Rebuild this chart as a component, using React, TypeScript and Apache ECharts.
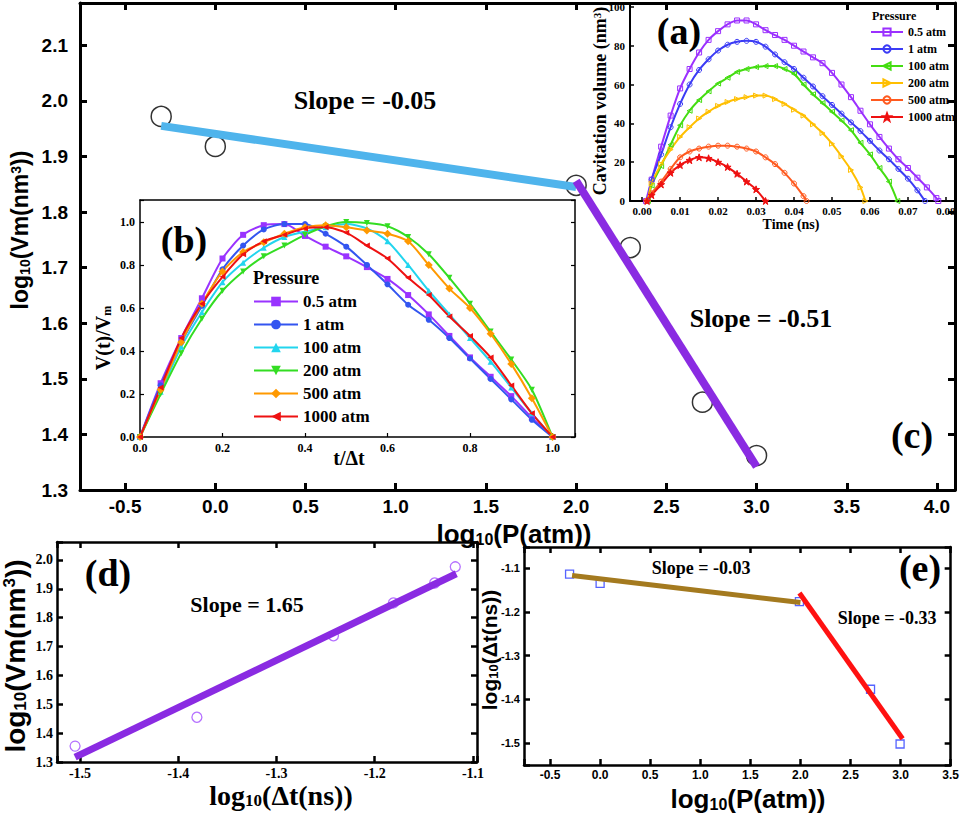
import React, { useEffect, useRef } from "react";
import * as echarts from "echarts";

const SERIF = "'Liberation Serif', 'Times New Roman', serif";
const SANS = "'Liberation Sans', Arial, sans-serif";

// ---------- (c) main panel: log10(Vm) vs log10(P)
const cLogP = [-0.3, 0, 2, 2.3, 2.7, 3];
const cLogVm = [1.972, 1.918, 1.848, 1.736, 1.458, 1.362];
const cFitLowP = [-0.3, 2.0];
const cFitLowVm = [1.955, 1.845];
const cFitHighP = [2.0, 3.0];
const cFitHighVm = [1.856, 1.342];

// ---------- pressures (legend names)
const pressureNames = ["0.5 atm", "1 atm", "100 atm", "200 atm", "500 atm", "1000 atm"];

// ---------- (a) cavitation volume vs time
const aTimeGrid = [0.0025, 0.005, 0.0075, 0.01, 0.0125, 0.015, 0.0175, 0.02, 0.0225, 0.025, 0.0275, 0.03, 0.0325, 0.035, 0.0375, 0.04, 0.0425, 0.045, 0.0475, 0.05, 0.0525, 0.055, 0.0575, 0.06, 0.0625, 0.065, 0.0675, 0.07, 0.0725, 0.075, 0.0775];
const aStartTime = [0.001, 0.0015, 0.0015, 0.0015, 0.0012, 0.0013];
const aEndTime = [0.078, 0.0745, 0.0672, 0.0588, 0.0433, 0.0325];
const aVol05 = [11, 28, 44, 58, 68, 76.5, 83, 87.5, 91, 93, 93, 91, 88, 85.5, 83, 80, 77, 74, 71, 66, 60, 53.5, 46.5, 39.5, 33, 27, 21.5, 17, 12, 7, 1.5];
const aVol1 = [11, 24, 38, 50, 60, 67.5, 73, 77.5, 80.5, 82, 82.5, 82, 79.5, 75.5, 71.5, 68, 63.5, 59, 54, 49.5, 45, 40.5, 36, 31, 26, 21.5, 16.5, 11.5, 5.5];
const aVol100 = [8, 18, 29, 39, 46.5, 52, 56.5, 60.5, 63.5, 66.5, 68, 69, 69.5, 69.5, 68, 65.5, 60, 55, 50.5, 46, 41.5, 36.5, 30, 24, 17, 10];
const aVol200 = [9, 19, 26.5, 33, 38, 42.5, 46, 49, 51, 52.5, 53.5, 54.3, 54.3, 52.5, 50, 47, 44, 39.5, 35, 29.5, 23, 16, 7];
const aVol500 = [4, 10, 16.5, 22.5, 25.5, 27, 28, 28.5, 28.5, 28, 27, 25.5, 22.5, 19, 14.5, 9, 2.5];
const aVol1000 = [3, 8.5, 14.5, 18.5, 21, 22.5, 22, 20, 17.5, 14, 10, 6];
const aColors = ["#9b30ff", "#3b3bf5", "#44dd11", "#ffbf00", "#ff5a1f", "#ee1111"];

// ---------- (b) normalised volume vs normalised time
const bT = [0, 0.05, 0.1, 0.15, 0.2, 0.25, 0.3, 0.35, 0.4, 0.45, 0.5, 0.55, 0.6, 0.65, 0.7, 0.75, 0.8, 0.85, 0.9, 0.95, 1.0];
const bV05 = [0, 0.25, 0.46, 0.645, 0.83, 0.94, 0.985, 0.99, 0.935, 0.885, 0.84, 0.79, 0.735, 0.66, 0.57, 0.47, 0.37, 0.28, 0.19, 0.09, 0];
const bV1 = [0, 0.24, 0.44, 0.61, 0.78, 0.89, 0.965, 0.99, 0.99, 0.945, 0.885, 0.8, 0.71, 0.615, 0.545, 0.46, 0.365, 0.27, 0.175, 0.08, 0];
const bV100 = [0, 0.21, 0.42, 0.58, 0.72, 0.81, 0.88, 0.93, 0.955, 0.975, 0.99, 0.97, 0.91, 0.8, 0.68, 0.57, 0.46, 0.35, 0.23, 0.11, 0];
const bV200 = [0, 0.2, 0.39, 0.55, 0.68, 0.77, 0.84, 0.89, 0.94, 0.98, 1.0, 0.995, 0.98, 0.93, 0.85, 0.74, 0.62, 0.49, 0.36, 0.22, 0];
const bV500 = [0, 0.22, 0.44, 0.62, 0.77, 0.86, 0.905, 0.945, 0.975, 0.985, 0.975, 0.96, 0.945, 0.91, 0.8, 0.69, 0.6, 0.48, 0.34, 0.18, 0];
const bV1000 = [0, 0.23, 0.46, 0.62, 0.745, 0.85, 0.91, 0.94, 0.97, 0.975, 0.95, 0.89, 0.83, 0.74, 0.66, 0.56, 0.47, 0.37, 0.24, 0.11, 0];
const bColors = ["#9933ff", "#3355f0", "#22d5ee", "#33dd22", "#ff9900", "#ee1111"];

// ---------- (d) log10(Vm) vs log10(dt)
const dLogDt = [-1.505, -1.381, -1.242, -1.181, -1.139, -1.118];
const dLogVm = [1.355, 1.455, 1.737, 1.851, 1.92, 1.976];
const dFitDt = [-1.505, -1.117];
const dFitVm = [1.317, 1.952];

// ---------- (e) log10(dt) vs log10(P)
const eLogP = [-0.305, 0, 1.99, 2.7, 2.995];
const eLogDt = [-1.114, -1.135, -1.177, -1.377, -1.502];
const eFitLowP = [-0.28, 2.0];
const eFitLowDt = [-1.117, -1.179];
const eFitHighP = [1.99, 3.02];
const eFitHighDt = [-1.157, -1.49];

const pairs = (x: number[], y: number[]) => x.map((v, i) => [v, y[i]]);

function fmt(step: number, digits: number) {
  return (v: number) => {
    const k = Math.round(v / step);
    if (Math.abs(v / step - k) > 1e-6) return "";
    const n = k * step;
    return (Math.abs(n) < 1e-12 ? 0 : n).toFixed(digits);
  };
}

type St = { lw: number; tl: number; tw: number; ff: string; fs: number; margin: number; z?: number };

function axis(grid: number, pos: string, min: number, max: number, step: number, digits: number, st: St, mirror: boolean, ticks = true) {
  return {
    type: "value",
    gridIndex: grid,
    position: pos,
    min,
    max,
    minInterval: step,
    maxInterval: step,
    splitNumber: Math.max(1, Math.round((max - min) / step)),
    z: st.z ?? 0,
    axisLine: { show: true, onZero: false, lineStyle: { color: "#000", width: st.lw } },
    axisTick: { show: ticks, inside: true, length: st.tl, lineStyle: { color: "#000", width: st.tw } },
    axisLabel: mirror
      ? { show: false }
      : { show: true, formatter: fmt(step, digits), fontFamily: st.ff, fontSize: st.fs, fontWeight: "bold", color: "#000", margin: st.margin },
    splitLine: { show: false },
  };
}

function richLabel(parts: [string, string][], size: number, family: string) {
  const text = parts.map(([k, t]) => `{${k}|${t}}`).join("");
  const base = { fontFamily: family, fontWeight: "bold", fill: "#000", color: "#000" };
  const small = Math.round(size * 0.6);
  const rich = {
    m: { ...base, fontSize: size, lineHeight: size },
    s: { ...base, fontSize: small, lineHeight: Math.round(size * 0.3), verticalAlign: "bottom" },
    p: { ...base, fontSize: small, lineHeight: small, verticalAlign: "top" },
  };
  return { text, rich };
}

function txt(x: number, y: number, text: string, size: number, family: string, rot = 0, rich?: any, align = "center") {
  return {
    type: "text",
    x,
    y,
    rotation: rot,
    z: 100,
    style: {
      text,
      rich,
      fontSize: size,
      fontFamily: family,
      fontWeight: "bold",
      fill: "#000",
      align,
      verticalAlign: "middle",
    },
  };
}

const STAR = "path://M12 1 L15 9 L23 9 L16.5 14 L19 22 L12 17 L5 22 L7.5 14 L1 9 L9 9 Z";

export default function App() {
  const ref = useRef<HTMLDivElement>(null);

  useEffect(() => {
    if (!ref.current) return;
    const chart = echarts.init(ref.current, undefined, { renderer: "svg" });

    const mainSt: St = { lw: 3, tl: 7, tw: 3, ff: SANS, fs: 19, margin: 7 };
    const mainStY: St = { ...mainSt, margin: 12 };
    const aSt: St = { lw: 2, tl: 4, tw: 1.5, ff: SERIF, fs: 11, margin: 4 };
    const aStY: St = { ...aSt, fs: 11, margin: 5 };
    const bSt: St = { lw: 1.5, tl: 4, tw: 1.2, ff: SERIF, fs: 12, margin: 5, z: 6 };
    const dSt: St = { lw: 2.5, tl: 6, tw: 2.5, ff: SERIF, fs: 14, margin: 4 };
    const eSt: St = { lw: 2.5, tl: 6, tw: 2.5, ff: SANS, fs: 12, margin: 4 };
    const eStY: St = { ...eSt, fs: 11, margin: 4 };

    const xAxis = [
      axis(0, "bottom", -0.75, 4.1, 0.5, 1, mainSt, false), // 0
      axis(0, "top", -0.75, 4.1, 0.5, 1, mainSt, true), // 1
      axis(1, "bottom", -0.0032, 0.0824, 0.01, 2, aSt, false), // 2
      axis(2, "bottom", 0, 1.0545, 0.2, 1, bSt, false), // 3
      axis(2, "top", 0, 1.0545, 0.2, 1, bSt, true, false), // 4
      axis(3, "bottom", -1.5234, -1.0959, 0.1, 1, dSt, false), // 5
      axis(3, "top", -1.5234, -1.0959, 0.1, 1, dSt, true), // 6
      axis(4, "bottom", -0.76, 3.5, 0.5, 1, eSt, false), // 7
      axis(4, "top", -0.76, 3.5, 0.5, 1, eSt, true), // 8
    ];
    const yAxis = [
      axis(0, "left", 1.3, 2.176, 0.1, 1, mainStY, false), // 0
      axis(0, "right", 1.3, 2.176, 0.1, 1, mainStY, true), // 1
      axis(1, "left", 0, 102, 20, 0, aStY, false), // 2
      axis(2, "left", 0, 1.102, 0.2, 1, bSt, false), // 3
      axis(2, "right", 0, 1.102, 0.2, 1, bSt, true), // 4
      axis(3, "left", 1.3, 2.062, 0.1, 1, dSt, false), // 5
      axis(3, "right", 1.3, 2.062, 0.1, 1, dSt, true), // 6
      axis(4, "left", -1.55, -1.052, 0.1, 1, eStY, false), // 7
      axis(4, "right", -1.55, -1.052, 0.1, 1, eStY, true), // 8
    ];

    const grid = [
      { left: 80, top: 3, right: 7, bottom: 324 },
      { left: 630, top: 3, right: 7, bottom: 613 },
      { left: 140, top: 200, right: 387, bottom: 377, show: true, backgroundColor: "#fff", borderWidth: 0, z: 5 },
      { left: 57, top: 542, right: 485, bottom: 52 },
      { left: 524, top: 547, right: 7, bottom: 49 },
    ];

    const aVols = [aVol05, aVol1, aVol100, aVol200, aVol500, aVol1000];
    const aSymbols = ["rect", "circle", "triangle", "triangle", "circle", STAR];
    const aRot = [0, 0, 90, -90, 0, 0];
    const aSeries = aVols.map((vals, i) => ({
      type: "line",
      name: "a: " + pressureNames[i],
      xAxisIndex: 2,
      yAxisIndex: 2,
      data: [[aStartTime[i], 0], ...vals.map((v, j) => [aTimeGrid[j], v]), [aEndTime[i], 0]],
      smooth: 0.3,
      symbol: aSymbols[i],
      symbolRotate: aRot[i],
      symbolSize: i === 5 ? 7 : 5,
      lineStyle: { color: aColors[i], width: 2 },
      itemStyle: { color: i === 5 ? aColors[i] : "rgba(255,255,255,0)", borderColor: aColors[i], borderWidth: 1 },
      z: 3,
    }));

    const bVals = [bV05, bV1, bV100, bV200, bV500, bV1000];
    const bSymbols = ["rect", "circle", "triangle", "triangle", "diamond", "triangle"];
    const bRot = [0, 0, 0, 180, 0, 90];
    const bSeries = bVals.map((vals, i) => ({
      type: "line",
      name: "b: " + pressureNames[i],
      xAxisIndex: 3,
      yAxisIndex: 3,
      data: pairs(bT, vals),
      smooth: 0.25,
      symbol: bSymbols[i],
      symbolRotate: bRot[i],
      symbolSize: i === 4 ? 8 : 6,
      lineStyle: { color: bColors[i], width: 2 },
      itemStyle: { color: bColors[i] },
      z: 7,
    }));

    const series: any[] = [
      {
        type: "scatter",
        name: "c points",
        xAxisIndex: 0,
        yAxisIndex: 0,
        data: pairs(cLogP, cLogVm),
        symbol: "circle",
        symbolSize: 20,
        itemStyle: { color: "rgba(255,255,255,0)", borderColor: "#000", borderWidth: 1.5 },
        z: 2,
      },
      {
        type: "line",
        name: "c fit low",
        xAxisIndex: 0,
        yAxisIndex: 0,
        data: pairs(cFitLowP, cFitLowVm),
        symbol: "none",
        lineStyle: { color: "#4fb4ec", width: 8 },
        z: 3,
      },
      {
        type: "line",
        name: "c fit high",
        xAxisIndex: 0,
        yAxisIndex: 0,
        data: pairs(cFitHighP, cFitHighVm),
        symbol: "none",
        lineStyle: { color: "#8a2be2", width: 8 },
        z: 3,
      },
      ...aSeries,
      ...bSeries,
      {
        type: "scatter",
        name: "d points",
        xAxisIndex: 5,
        yAxisIndex: 5,
        data: pairs(dLogDt, dLogVm),
        symbol: "circle",
        symbolSize: 10,
        itemStyle: { color: "rgba(255,255,255,0)", borderColor: "#a24dff", borderWidth: 1.3 },
        z: 2,
      },
      {
        type: "line",
        name: "d fit",
        xAxisIndex: 5,
        yAxisIndex: 5,
        data: pairs(dFitDt, dFitVm),
        symbol: "none",
        lineStyle: { color: "#8a2be2", width: 7 },
        z: 3,
      },
      {
        type: "scatter",
        name: "e points",
        xAxisIndex: 7,
        yAxisIndex: 7,
        data: pairs(eLogP, eLogDt),
        symbol: "rect",
        symbolSize: 8,
        itemStyle: { color: "rgba(255,255,255,0)", borderColor: "#2b3cff", borderWidth: 1.3 },
        z: 2,
      },
      {
        type: "line",
        name: "e fit low",
        xAxisIndex: 7,
        yAxisIndex: 7,
        data: pairs(eFitLowP, eFitLowDt),
        symbol: "none",
        lineStyle: { color: "#a47a1f", width: 5 },
        z: 3,
      },
      {
        type: "line",
        name: "e fit high",
        xAxisIndex: 7,
        yAxisIndex: 7,
        data: pairs(eFitHighP, eFitHighDt),
        symbol: "none",
        lineStyle: { color: "#ff1111", width: 5 },
        z: 3,
      },
    ];

    const legendFmt = (n: string) => n.slice(3);
    const legend = [
      {
        left: 870,
        top: 26,
        orient: "vertical",
        itemWidth: 32,
        itemHeight: 9,
        itemGap: 5,
        padding: 0,
        data: pressureNames.map((p) => "a: " + p),
        formatter: legendFmt,
        selectedMode: false,
        textStyle: { fontFamily: SERIF, fontSize: 12, fontWeight: "bold", color: "#000" },
        z: 10,
      },
      {
        left: 253,
        top: 293,
        orient: "vertical",
        itemWidth: 44,
        itemHeight: 12,
        itemGap: 6,
        padding: 0,
        data: pressureNames.map((p) => "b: " + p),
        formatter: legendFmt,
        selectedMode: false,
        textStyle: { fontFamily: SERIF, fontSize: 17, fontWeight: "bold", color: "#000" },
        z: 10,
      },
    ];

    const mainY = richLabel([["m", "log"], ["s", "10"], ["m", "(Vm(nm"], ["p", "3"], ["m", "))"]], 23, SANS);
    const mainX = richLabel([["m", "log"], ["s", "10"], ["m", "(P(atm))"]], 26, SANS);
    const aY = richLabel([["m", "Cavitation volume (nm"], ["p", "3"], ["m", ")"]], 18, SERIF);
    const bY = richLabel([["m", "V(t)/V"], ["s", "m"]], 20, SERIF);
    const dY = richLabel([["m", "log"], ["s", "10"], ["m", "(Vm(nm"], ["p", "3"], ["m", "))"]], 28, SANS);
    const dX = richLabel([["m", "log"], ["s", "10"], ["m", "(Δt(ns))"]], 28, SERIF);
    const eY = richLabel([["m", "log"], ["s", "10"], ["m", "(Δt(ns))"]], 21, SANS);
    const eX = richLabel([["m", "log"], ["s", "10"], ["m", "(P(atm))"]], 26, SANS);
    const R = Math.PI / 2;

    const graphic = [
      txt(20, 230, mainY.text, 23, SANS, R, mainY.rich),
      txt(514, 534, mainX.text, 26, SANS, 0, mainX.rich),
      txt(365, 100, "Slope = -0.05", 26, SERIF),
      txt(761, 318, "Slope = -0.51", 26, SERIF),
      txt(912, 435, "(c)", 38, SERIF),
      txt(679, 31, "(a)", 38, SERIF),
      txt(872, 16, "Pressure", 12, SERIF, 0, undefined, "left"),
      txt(600, 101, aY.text, 18, SERIF, R, aY.rich),
      txt(791, 224, "Time (ns)", 14, SERIF),
      txt(184, 240, "(b)", 38, SERIF),
      txt(253, 278, "Pressure", 18, SERIF, 0, undefined, "left"),
      txt(103, 338, bY.text, 20, SERIF, R, bY.rich),
      txt(349, 458, "t/Δt", 20, SERIF),
      txt(108, 573, "(d)", 38, SERIF),
      txt(247, 604, "Slope = 1.65", 22, SERIF),
      txt(15, 656, dY.text, 28, SANS, R, dY.rich),
      txt(281, 795, dX.text, 28, SERIF, 0, dX.rich),
      txt(920, 568, "(e)", 38, SERIF),
      txt(701, 568, "Slope = -0.03", 18, SERIF),
      txt(887, 618, "Slope = -0.33", 18, SERIF),
      txt(489, 650, eY.text, 21, SANS, R, eY.rich),
      txt(748, 799, eX.text, 26, SANS, 0, eX.rich),
    ];

    chart.setOption({
      animation: false,
      backgroundColor: "#fff",
      grid,
      xAxis,
      yAxis,
      legend,
      series,
      graphic,
    } as any);

    return () => chart.dispose();
  }, []);

  return (
    <div
      ref={ref}
      style={{ position: "absolute", left: 0, top: 0, width: 962, height: 814, background: "#fff" }}
    />
  );
}
